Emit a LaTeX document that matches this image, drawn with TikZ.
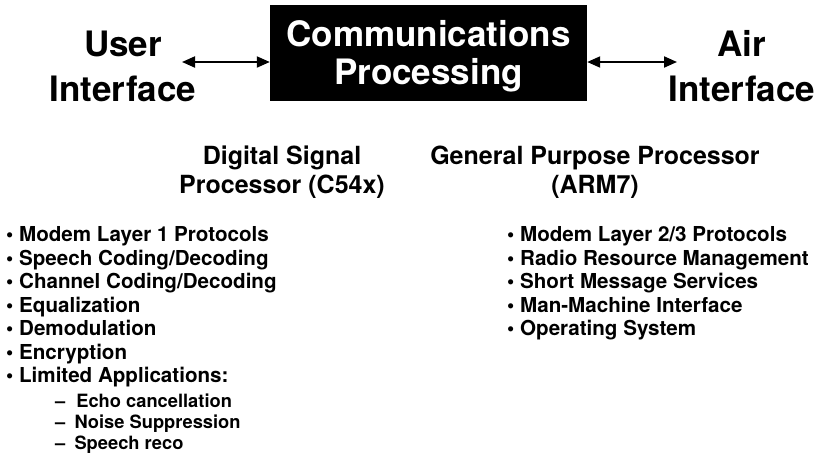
\documentclass[tikz,border=0pt]{standalone}
\usepackage{fontspec}
\setmainfont{TeX Gyre Heros}
\usetikzlibrary{arrows.meta}
\tikzset{
  x=1pt, y=-1pt,
  big/.style={font=\fontsize{35}{45}\selectfont\bfseries, align=center, inner sep=0pt},
  head/.style={font=\fontsize{25}{29}\selectfont\bfseries, align=center, inner sep=0pt},
  item/.style={font=\fontsize{20.6}{24}\selectfont\bfseries, anchor=base west, inner sep=0pt},
  subitem/.style={font=\fontsize{18.3}{21}\selectfont\bfseries, anchor=base west, inner sep=0pt},
  boxstyle/.style={fill=black, minimum width=317pt, minimum height=96pt, inner sep=0pt},
  boxtext/.style={text=white, font=\fontsize{35}{38}\selectfont\bfseries, align=center, inner sep=0pt},
  link/.style={line width=2pt, {Triangle[length=13pt,width=11pt]}-{Triangle[length=13pt,width=11pt]}}
}
\begin{document}
\begin{tikzpicture}
\useasboundingbox (0,0) rectangle (817,461);
\node[boxstyle] (box) at (428.5,53) {};
\node[boxtext] (boxlabel) at ([yshift=-3pt]box.center) {Communications\\Processing};
\node[big] (user) at (123,66) {User\\Interface};
\node[big] (air) at (742,66) {Air\\Interface};
\coordinate (ua) at (182,62);
\coordinate (aa) at (677,62);
\draw[link] (ua) -- (box.west |- ua);
\draw[link] (box.east |- aa) -- (aa);
\node[head] (dsp) at (282,172) {Digital Signal\\Processor (C54x)};
\node[head] (gpp) at (595,172) {General Purpose Processor\\(ARM7)};
\node[item] (l1) at (6,241.5) {• Modem Layer 1 Protocols};
\node[item] (l2) at (6,265) {• Speech Coding/Decoding};
\node[item] (l3) at (6,288.5) {• Channel Coding/Decoding};
\node[item] (l4) at (6,312) {• Equalization};
\node[item] (l5) at (6,335.5) {• Demodulation};
\node[item] (l6) at (6,359) {• Encryption};
\node[item] (l7) at (6,382.5) {• Limited Applications:};
\node[subitem] (s1) at (55,407) {--\hspace{0.6em}Echo cancellation};
\node[subitem] (s2) at (55,428) {--\hspace{0.5em}Noise Suppression};
\node[subitem] (s3) at (55,449) {--\hspace{0.5em}Speech reco};
\node[item] (r1) at (507,241.5) {• Modem Layer 2/3 Protocols};
\node[item] (r2) at (507,265) {• Radio Resource Management};
\node[item] (r3) at (507,288.5) {• Short Message Services};
\node[item] (r4) at (507,312) {• Man-Machine Interface};
\node[item] (r5) at (507,335.5) {• Operating System};
\end{tikzpicture}
\end{document}
